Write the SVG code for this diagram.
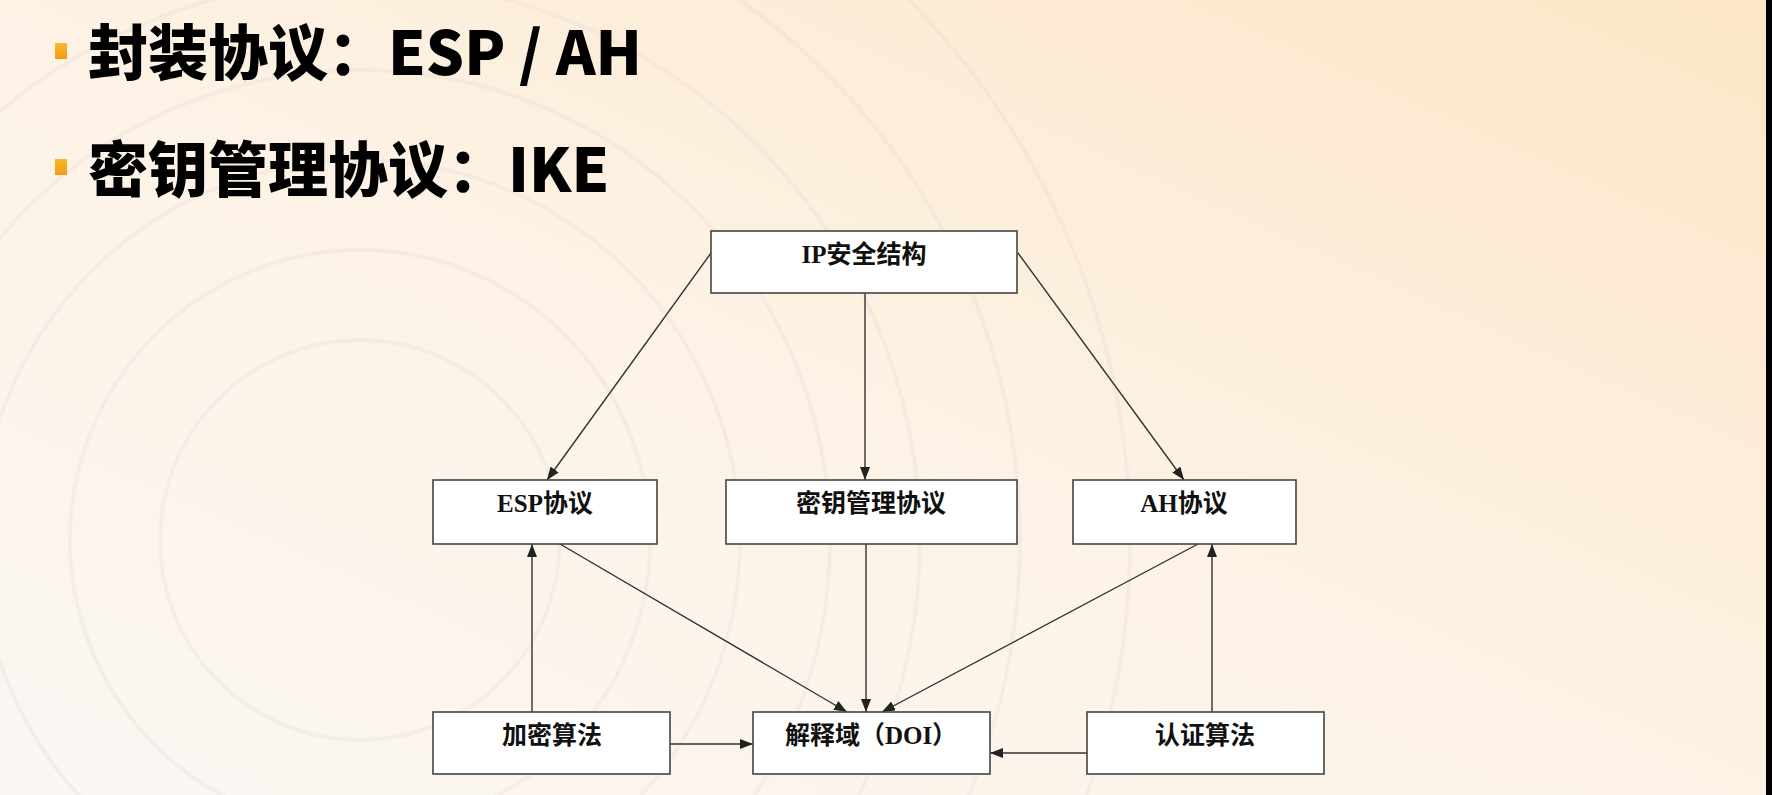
<svg xmlns="http://www.w3.org/2000/svg" width="1772" height="795" viewBox="0 0 1772 795">
  <defs>
    <linearGradient id="bg" x1="0" y1="1" x2="1" y2="0">
      <stop offset="0" stop-color="#FBF7F3"/>
      <stop offset="0.45" stop-color="#FDF3E7"/>
      <stop offset="1" stop-color="#FDE6C8"/>
    </linearGradient>
    <linearGradient id="bul" x1="0" y1="0" x2="0" y2="1">
      <stop offset="0" stop-color="#FBB829"/>
      <stop offset="1" stop-color="#F39A12"/>
    </linearGradient>
    <marker id="arr" markerUnits="userSpaceOnUse" markerWidth="13" markerHeight="10" refX="13" refY="5" orient="auto">
      <path d="M0,0 L13,5 L0,10 z" fill="#222"/>
    </marker>
    <style>
      .box { fill: #ffffff; stroke: #444; stroke-width: 1.6; }
      .lbl { font-family: "Liberation Serif", "Noto Sans CJK SC", serif; font-weight: bold; font-size: 25px; fill: #111; text-anchor: middle; }
      .title { font-family: "Noto Sans CJK SC", "Noto Sans", sans-serif; font-weight: 900; font-size: 60px; fill: #000; }
      .conn line { stroke: #333; stroke-width: 1.4; marker-end: url(#arr); }
      .swirl circle { fill: none; stroke: #E4DCD6; stroke-width: 4; opacity: 0.3; }
    </style>
  </defs>

  <rect x="0" y="0" width="1772" height="795" fill="url(#bg)"/>
  <g class="swirl">
    <circle cx="360" cy="540" r="200"/>
    <circle cx="360" cy="540" r="290"/>
    <circle cx="360" cy="540" r="380"/>
    <circle cx="360" cy="540" r="470"/>
    <circle cx="360" cy="540" r="560"/>
    <circle cx="360" cy="540" r="660"/>
    <circle cx="360" cy="540" r="770"/>
  </g>
  <rect x="1766" y="0" width="6" height="795" fill="#000"/>

  <g id="title1">
    <rect x="55" y="43" width="12" height="16" fill="url(#bul)"/>
    <text class="title" x="88" y="75">封装协议：ESP / AH</text>
  </g>
  <g id="title2">
    <rect x="55" y="159" width="12" height="16" fill="url(#bul)"/>
    <text class="title" x="88" y="192">密钥管理协议：IKE</text>
  </g>

  <g id="connectors" class="conn">
    <line x1="711" y1="253" x2="547" y2="480"/>
    <line x1="865" y1="293" x2="865" y2="480"/>
    <line x1="1018" y1="253" x2="1184" y2="480"/>
    <line x1="560" y1="544" x2="847" y2="712"/>
    <line x1="866" y1="544" x2="866" y2="712"/>
    <line x1="1198" y1="544" x2="882" y2="712"/>
    <line x1="532" y1="712" x2="532" y2="544"/>
    <line x1="1212" y1="712" x2="1212" y2="544"/>
    <line x1="670" y1="744" x2="753" y2="744"/>
    <line x1="1087" y1="753" x2="990" y2="753"/>
  </g>

  <g id="ipsec">
    <rect class="box" x="711" y="231" width="306" height="62"/>
    <text class="lbl" x="864" y="263">IP安全结构</text>
  </g>
  <g id="esp">
    <rect class="box" x="433" y="480" width="224" height="64"/>
    <text class="lbl" x="545" y="512">ESP协议</text>
  </g>
  <g id="keymgmt">
    <rect class="box" x="726" y="480" width="291" height="64"/>
    <text class="lbl" x="871" y="512">密钥管理协议</text>
  </g>
  <g id="ah">
    <rect class="box" x="1073" y="480" width="223" height="64"/>
    <text class="lbl" x="1184" y="512">AH协议</text>
  </g>
  <g id="encalg">
    <rect class="box" x="433" y="712" width="237" height="62"/>
    <text class="lbl" x="552" y="744">加密算法</text>
  </g>
  <g id="doi">
    <rect class="box" x="753" y="712" width="237" height="62"/>
    <text class="lbl" x="871" y="744">解释域（DOI）</text>
  </g>
  <g id="authalg">
    <rect class="box" x="1087" y="712" width="237" height="62"/>
    <text class="lbl" x="1205" y="744">认证算法</text>
  </g>
</svg>
